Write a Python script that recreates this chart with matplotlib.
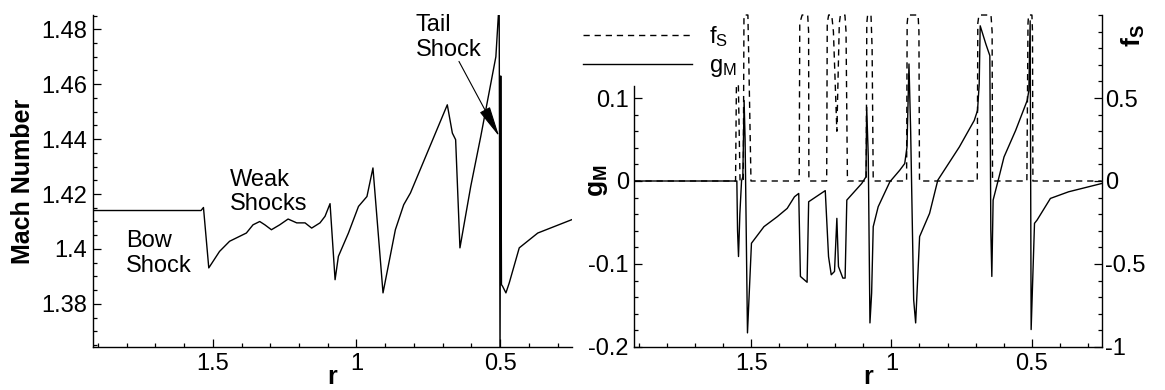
import matplotlib
matplotlib.use("Agg")
import matplotlib.pyplot as plt
from matplotlib.ticker import MultipleLocator, FixedLocator
import numpy as np

plt.rcParams['font.family'] = 'Liberation Sans'
plt.rcParams['mathtext.fontset'] = 'custom'
plt.rcParams['mathtext.rm'] = 'Liberation Sans'
plt.rcParams['mathtext.it'] = 'Liberation Sans'
plt.rcParams['mathtext.bf'] = 'Liberation Sans:bold'

# Mach number along the radial line
r_mach = [1.917, 1.541, 1.5325, 1.514, 1.4766, 1.4416, 1.3832, 1.360, 1.3367, 1.319,
          1.296, 1.267, 1.238, 1.208, 1.179, 1.156, 1.127, 1.1094, 1.092, 1.0745,
          1.063, 1.028, 0.993, 0.9636, 0.9427, 0.9077, 0.8647, 0.8357, 0.8122, 0.684,
          0.6664, 0.655, 0.640, 0.6024, 0.5675, 0.515, 0.5035, 0.5005, 0.498, 0.4955,
          0.4916, 0.480, 0.4685, 0.4336, 0.3692, 0.25]
mach = [1.414, 1.414, 1.4151, 1.3931, 1.3991, 1.4028, 1.4058, 1.4088, 1.4100, 1.4088,
        1.407, 1.4088, 1.4109, 1.4095, 1.4095, 1.4076, 1.4095, 1.4119, 1.4165, 1.3888,
        1.3973, 1.4058, 1.4155, 1.4191, 1.4295, 1.384, 1.407, 1.4161, 1.4204, 1.4525,
        1.4422, 1.4398, 1.4004, 1.4228, 1.441, 1.470, 1.490, 1.360, 1.463, 1.387,
        1.3864, 1.384, 1.3876, 1.4004, 1.4058, 1.4107]

# Mach gradient g_M
r_g = [1.917, 1.5514, 1.5489, 1.5455, 1.5407, 1.5347, 1.5301, 1.5255, 1.522, 1.5135,
       1.4993, 1.4547, 1.4072, 1.3718, 1.3459, 1.3307, 1.3247, 1.3009, 1.2953, 1.2361,
       1.2244, 1.2148, 1.2031, 1.1947, 1.189, 1.1734, 1.1653, 1.1592, 1.1061, 1.0909,
       1.0884, 1.0827, 1.0767, 1.0707, 1.065, 1.0473, 1.0058, 0.9704, 0.9527, 0.9446,
       0.9375, 0.9315, 0.9208, 0.9137, 0.8996, 0.864, 0.8347, 0.7579, 0.7047, 0.693,
       0.687, 0.6835, 0.6633, 0.6491, 0.6456, 0.642, 0.6374, 0.6162, 0.5985, 0.557,
       0.5159, 0.5099, 0.5053, 0.5018, 0.4898, 0.4805, 0.4331, 0.3682, 0.25]
g_m = [0, 0, -0.06, -0.091, -0.04, 0, 0.005, 0.097, 0.05, -0.183,
       -0.075, -0.055, -0.043, -0.033, -0.019, -0.015, -0.115, -0.122, -0.025, -0.0116,
       -0.091, -0.113, -0.109, -0.045, -0.103, -0.117, -0.117, -0.023, -0.003, 0.005,
       0.089, 0.03, -0.171, -0.135, -0.055, -0.031, -0.001, 0.013, 0.021, 0.041,
       0.141, 0.06, -0.143, -0.171, -0.067, -0.039, 0.001, 0.041, 0.073, 0.085,
       0.117, 0.187, 0.165, 0.151, -0.059, -0.115, -0.023, 0.005, 0.029, 0.061,
       0.097, 0.109, 0.193, -0.179, -0.051, -0.047, -0.021, -0.013, -0.003]

# shock sensor f_S
r_f = [1.917, 1.556, 1.553, 1.546, 1.540, 1.5285, 1.526, 1.512, 1.5085, 1.501,
       1.329, 1.327, 1.3186, 1.2988, 1.2955, 1.2945, 1.231, 1.229, 1.224, 1.213,
       1.207, 1.1947, 1.186, 1.182, 1.166, 1.162, 1.157, 1.090, 1.088, 1.085,
       1.073, 1.069, 1.065, 0.946, 0.944, 0.941, 0.905, 0.902, 0.900, 0.694,
       0.692, 0.688, 0.645, 0.641, 0.6395, 0.517, 0.513, 0.511, 0.499, 0.497,
       0.4955, 0.25]
f_s = [0, 0, 0.58, 0.58, 0, 0, 1, 1, 0.7, 0,
       0, 0.95, 1, 1, 0.9, 0, 0, 0.95, 1, 1,
       0.9, 0.3, 0.95, 1, 1, 0.9, 0, 0, 0.95, 1,
       1, 0.8, 0, 0, 0.95, 1, 1, 0.9, 0, 0,
       0.95, 1, 1, 0.9, 0, 0, 0.95, 1, 1, 0.9,
       0, 0]

FS = 17
R_LIM = (1.917, 0.25)


def style_ticks(ax, axis='both'):
    ax.tick_params(axis=axis, which='both', direction='in', labelsize=FS,
                   width=0.9, colors='k', pad=4)
    ax.tick_params(axis=axis, which='major', length=6)
    ax.tick_params(axis=axis, which='minor', length=3)


def r_label(ax):
    # x-axis title placed under the tick labels
    ax.text(0.5, -0.113, 'r', fontsize=18, fontweight='bold', ha='center', va='baseline',
            transform=ax.transAxes)


fig = plt.figure(figsize=(11.65, 3.9), dpi=100)

# --- Mach number ---
ax_m = fig.add_axes([0.0798, 0.1103, 0.4112, 0.8512])
ax_m.plot(r_mach, mach, color='k', lw=1.0)
ax_m.set_xlim(*R_LIM)
ax_m.set_ylim(1.3643, 1.4852)
ax_m.spines['top'].set_visible(False)
ax_m.spines['right'].set_visible(False)
for s in ('left', 'bottom'):
    ax_m.spines[s].set_linewidth(1.0)
ax_m.xaxis.set_major_locator(FixedLocator([1.5, 1.0, 0.5]))
ax_m.xaxis.set_minor_locator(MultipleLocator(0.1))
ax_m.yaxis.set_minor_locator(MultipleLocator(0.005))
ax_m.set_xticklabels(['1.5', '1', '0.5'])
ax_m.set_yticks([1.38, 1.40, 1.42, 1.44, 1.46, 1.48], ['1.38', '1.4', '1.42', '1.44', '1.46', '1.48'])
style_ticks(ax_m)
ax_m.set_ylabel('Mach Number', fontsize=18, fontweight='bold')
ax_m.yaxis.set_label_coords(-0.12, 0.5)
r_label(ax_m)

ax_m.text(1.8017, 1.4069, 'Bow\nShock', fontsize=FS, ha='left', va='top', linespacing=1.15)
ax_m.text(1.4416, 1.4293, 'Weak\nShocks', fontsize=FS, ha='left', va='top', linespacing=1.15)
ax_m.text(0.795, 1.4855, 'Tail\nShock', fontsize=FS, ha='left', va='top', linespacing=1.15)
ax_m.annotate('', xy=(0.5035, 1.441), xytext=(0.6434, 1.4683),
              arrowprops=dict(arrowstyle='-|>,head_length=1.6,head_width=0.3',
                              mutation_scale=12, lw=0.8, color='k', shrinkA=0, shrinkB=0),
              annotation_clip=False)

# --- g_M and f_S ---
ax_g = fig.add_axes([0.5445, 0.1103, 0.4012, 0.8512])
ax_f = ax_g.twinx()
line_g, = ax_g.plot(r_g, g_m, color='k', lw=1.0)
line_f, = ax_f.plot(r_f, f_s, color='k', lw=1.0, linestyle=(0, (4.5, 3.5)), clip_on=False)
ax_g.set_xlim(*R_LIM)
ax_g.set_ylim(-0.2, 0.2)
ax_f.set_ylim(-1, 1)

ax_g.spines['top'].set_visible(False)
ax_g.spines['right'].set_visible(False)
# left axis line stops below the legend
ax_g.spines['left'].set_bounds(-0.2, 0.114)
for s in ('top', 'left', 'bottom'):
    ax_f.spines[s].set_visible(False)
ax_f.spines['right'].set_linewidth(1.0)
for s in ('left', 'bottom'):
    ax_g.spines[s].set_linewidth(1.0)

ax_g.xaxis.set_major_locator(FixedLocator([1.5, 1.0, 0.5]))
ax_g.xaxis.set_minor_locator(MultipleLocator(0.1))
ax_g.set_xticklabels(['1.5', '1', '0.5'])
ax_g.set_yticks([-0.2, -0.1, 0.0, 0.1], ['-0.2', '-0.1', '0', '0.1'])
ax_g.yaxis.set_minor_locator(FixedLocator(np.arange(-0.2, 0.101, 0.02)))
ax_f.set_yticks([-1, -0.5, 0, 0.5], ['-1', '-0.5', '0', '0.5'])
ax_f.yaxis.set_minor_locator(MultipleLocator(0.1))
style_ticks(ax_g)
style_ticks(ax_f, axis='y')
ax_f.tick_params(axis='y', pad=2.5)

r_label(ax_g)
ax_g.set_ylabel(r'$\mathbf{g_M}$', fontsize=19)
ax_g.yaxis.set_label_coords(-0.052, 0.5)
ax_f.text(1.067, 0.937, r'$\mathbf{f_S}$', fontsize=19, rotation=90,
          ha='center', va='center', transform=ax_f.transAxes)

fig.legend([line_f, line_g], [r'$\mathregular{f_S}$', r'$\mathregular{g_M}$'],
           loc='upper left', bbox_to_anchor=(0.4988, 0.944), fontsize=FS,
           frameon=True, facecolor='white', edgecolor='none', framealpha=1,
           fancybox=False, handlelength=4.6, handletextpad=0.7, borderpad=0.1,
           borderaxespad=0, labelspacing=0.25)

fig.savefig('out.png', dpi=100, facecolor='white')
